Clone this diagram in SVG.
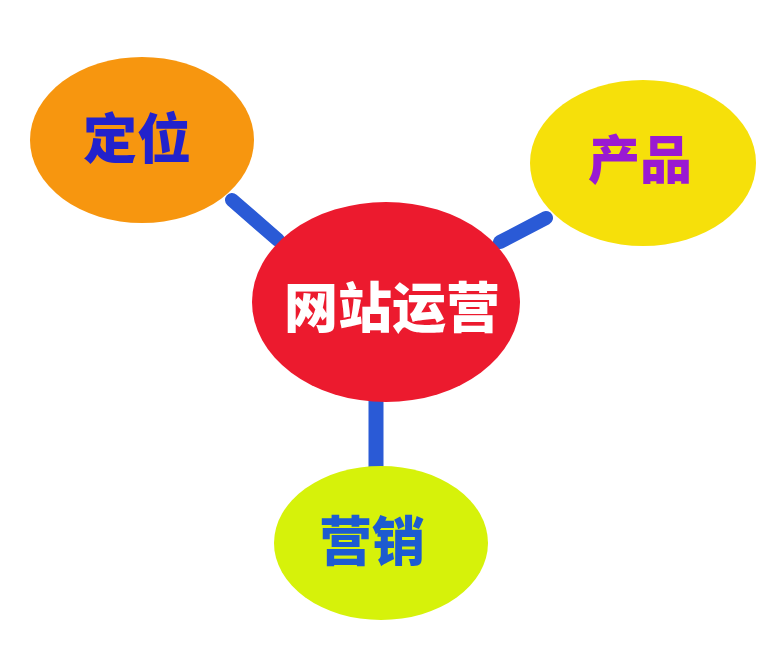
<svg xmlns="http://www.w3.org/2000/svg" width="780" height="662" viewBox="0 0 780 662">
<style>
.lbl{font-family:"Noto Sans CJK SC","Noto Sans",sans-serif;font-weight:900;text-anchor:middle;dominant-baseline:central}
.conn{stroke:#2a5ad6;stroke-width:14;stroke-linecap:round;fill:none}
</style>
<rect width="780" height="662" fill="#ffffff"/>
<g id="connectors">
<line class="conn" x1="232" y1="200" x2="278" y2="240"/>
<line class="conn" x1="546" y1="218" x2="500" y2="242"/>
<line class="conn" x1="376" y1="400" x2="376" y2="468" style="stroke-linecap:butt;stroke-width:15"/>
</g>
<g id="node-dingwei">
<ellipse cx="142" cy="140" rx="112" ry="83" fill="#f7960f"/>
<text class="lbl" x="137" y="135" font-size="54" fill="#2222cc">定位</text>
</g>
<g id="node-chanpin">
<ellipse cx="643" cy="163" rx="113" ry="83" fill="#f6e00a"/>
<text class="lbl" x="640" y="156" font-size="52" fill="#9a1ad2">产品</text>
</g>
<g id="node-yunying">
<ellipse cx="386" cy="302" rx="134" ry="100" fill="#ec1a2e"/>
<text class="lbl" x="392" y="304" font-size="54" fill="#ffffff">网站运营</text>
</g>
<g id="node-yingxiao">
<ellipse cx="381" cy="543" rx="107" ry="77" fill="#d6f20a"/>
<text class="lbl" x="372" y="538" font-size="53" fill="#1d5bd0">营销</text>
</g>
</svg>
